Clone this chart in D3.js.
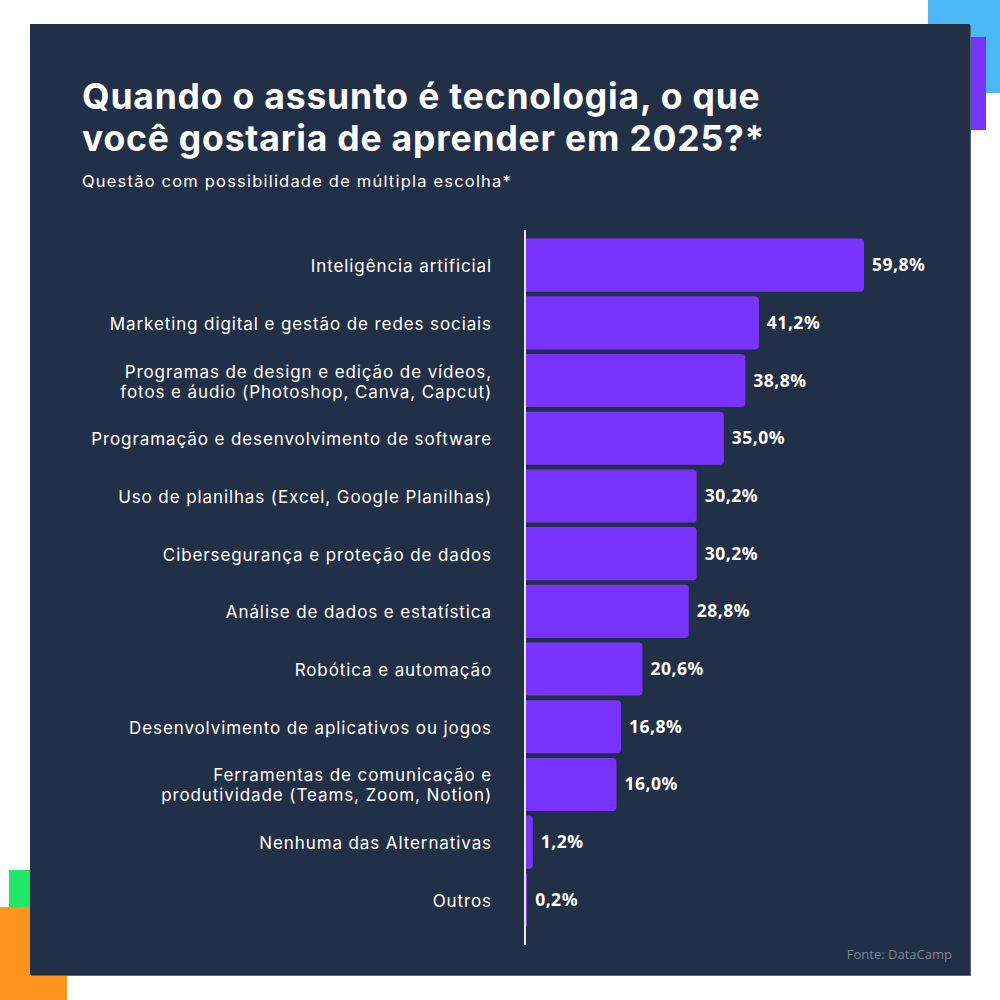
<!DOCTYPE html>
<html><head><meta charset="utf-8">
<script src="https://cdn.jsdelivr.net/npm/d3@7"></script>
<style>body{margin:0;background:#fff}svg{display:block}</style>
</head><body>
<svg id="c" width="1000" height="1000"></svg>
<script>
const categories = [
  ["Inteligência artificial"],
  ["Marketing digital e gestão de redes sociais"],
  ["Programas de design e edição de vídeos,", "fotos e áudio (Photoshop, Canva, Capcut)"],
  ["Programação e desenvolvimento de software"],
  ["Uso de planilhas (Excel, Google Planilhas)"],
  ["Cibersegurança e proteção de dados"],
  ["Análise de dados e estatística"],
  ["Robótica e automação"],
  ["Desenvolvimento de aplicativos ou jogos"],
  ["Ferramentas de comunicação e", "produtividade (Teams, Zoom, Notion)"],
  ["Nenhuma das Alternativas"],
  ["Outros"]
];
const values = [59.8, 41.2, 38.8, 35.0, 30.2, 30.2, 28.8, 20.6, 16.8, 16.0, 1.2, 0.2];
const valueLabels = ["59,8%","41,2%","38,8%","35,0%","30,2%","30,2%","28,8%","20,6%","16,8%","16,0%","1,2%","0,2%"];
const titleLines = ["Quando o assunto é tecnologia, o que", "você gostaria de aprender em 2025?*"];
const subtitle = "Questão com possibilidade de múltipla escolha*";
const source = "Fonte: DataCamp";

const svg = d3.select("#c");
// decorations
svg.append("rect").attr("x",928).attr("y",0).attr("width",72).attr("height",93).attr("fill","#4ab7f6");
svg.append("rect").attr("x",960).attr("y",37).attr("width",26).attr("height",93).attr("fill","#7933ff");
svg.append("rect").attr("x",9).attr("y",870).attr("width",40).attr("height",40).attr("fill","#1ee865");
svg.append("rect").attr("x",0).attr("y",907).attr("width",67).attr("height",93).attr("fill","#ff931e");
// panel
svg.append("rect").attr("x",31).attr("y",25).attr("width",940).attr("height",951).attr("fill","#55677d");
svg.append("rect").attr("x",30).attr("y",24).attr("width",940).attr("height",951).attr("fill","#223047");

// title
const t = svg.append("text").attr("x",82).attr("fill","#fff")
  .attr("font-family","Inter, sans-serif").attr("font-weight",700).attr("font-size",35.5)
  .attr("letter-spacing",0.8);
titleLines.forEach((l,i)=>t.append("tspan").attr("x",82).attr("y",109+i*42).text(l));
svg.append("text").attr("x",82).attr("y",187).attr("fill","#fff")
  .attr("font-family","Inter, sans-serif").attr("font-size",16.5).attr("letter-spacing",1.2).text(subtitle);

const x0 = 526;
const x = d3.scaleLinear().domain([0,59.8]).range([x0,864]);
const y = d3.scaleBand().domain(d3.range(values.length)).range([236.3, 236.3+12*57.7]).paddingInner(0.08).paddingOuter(0.04);

const g = svg.append("g");
g.selectAll("path.bar").data(values).join("path").attr("class","bar")
  .attr("fill","#7933ff")
  .attr("d",(d,i)=>{
    const x1=x(0), x2=x(d), y1=y(i), h=y.bandwidth();
    const r=Math.min(4,(x2-x1));
    return `M${x1},${y1}H${x2-r}Q${x2},${y1} ${x2},${y1+r}V${y1+h-r}Q${x2},${y1+h} ${x2-r},${y1+h}H${x1}Z`;
  });

g.selectAll("text.val").data(values).join("text").attr("class","val")
  .attr("x",(d)=>x(d)+8).attr("y",(d,i)=>y(i)+y.bandwidth()/2+6)
  .attr("fill","#fff").attr("font-family","'Noto Sans', sans-serif").attr("font-weight",700).attr("font-size",17.5)
  .attr("letter-spacing",0.5)
  .text((d,i)=>valueLabels[i]);

const lab = g.selectAll("text.lab").data(categories).join("text").attr("class","lab")
  .attr("text-anchor","end").attr("fill","#fff")
  .attr("font-family","Inter, sans-serif").attr("font-size",17).attr("letter-spacing",0.9);
lab.each(function(lines,i){
  const cy = y(i)+y.bandwidth()/2;
  const n = lines.length;
  lines.forEach((l,k)=>{
    d3.select(this).append("tspan").attr("x",492).attr("y",cy+7+(k-(n-1)/2)*20).text(l);
  });
});

svg.append("line").attr("x1",525).attr("x2",525).attr("y1",230).attr("y2",945)
  .attr("stroke","#fff").attr("stroke-width",1.8);

svg.append("text").attr("x",952).attr("y",959).attr("text-anchor","end").attr("fill","#7d8591")
  .attr("font-family","'Open Sans', sans-serif").attr("font-size",13).text(source);
</script>
</body></html>
